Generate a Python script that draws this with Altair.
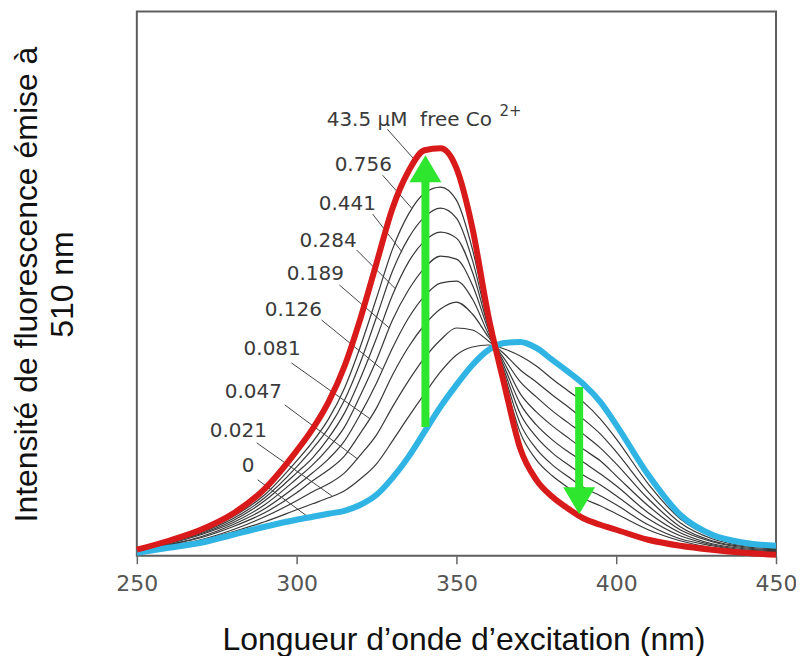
import altair as alt
import pandas as pd

# ---------------- data ----------------
wavelength = [250, 260, 270, 280, 290, 300, 305, 310, 315, 320, 325, 330, 335, 340,
              345, 350, 355, 360, 365, 370, 375, 380, 385, 390, 395, 400, 410, 420,
              430, 440, 450]

conc_0 = [3, 8, 13, 21, 29, 36, 39, 42, 45, 51, 61, 78, 99, 124, 149, 171, 191, 206,
          213, 214, 208, 196, 184, 171, 154, 131, 81, 41, 21, 13, 10]
conc_0021 = [3, 9, 15, 24, 34, 46, 52, 58, 65, 77, 92, 115, 139, 162, 184, 201, 209,
             211, 207, 200, 190, 177, 165, 153, 137, 117, 72, 37, 19, 12, 9]
conc_0047 = [4, 10, 16, 26, 39, 55, 64, 72, 83, 101, 121, 149, 175, 198, 216, 228, 226,
             215, 202, 186, 174, 161, 149, 136, 122, 104, 64, 33, 17, 10, 8]
conc_0081 = [4, 11, 18, 29, 43, 63, 75, 86, 100, 123, 148, 181, 209, 231, 247, 254, 242,
             219, 197, 174, 159, 145, 133, 121, 108, 92, 57, 29, 15, 9, 7]
conc_0126 = [4, 11, 19, 31, 47, 70, 83, 97, 115, 142, 173, 208, 238, 260, 273, 275, 257,
             222, 193, 162, 144, 130, 118, 106, 95, 80, 50, 26, 14, 8, 6]
conc_0189 = [5, 12, 21, 33, 51, 77, 91, 108, 129, 161, 196, 236, 266, 288, 300, 297, 271,
             226, 189, 152, 131, 116, 104, 93, 82, 70, 43, 23, 12, 7, 5]
conc_0284 = [5, 13, 22, 35, 55, 83, 98, 118, 143, 178, 218, 261, 294, 315, 324, 318, 284,
             229, 185, 142, 119, 103, 91, 80, 71, 60, 37, 20, 11, 6, 4]
conc_0441 = [5, 13, 23, 37, 58, 89, 107, 128, 156, 194, 239, 285, 318, 339, 348, 338, 296,
             232, 181, 132, 107, 91, 79, 68, 60, 51, 31, 17, 10, 5, 3]
conc_0756 = [6, 14, 24, 39, 61, 95, 114, 137, 168, 210, 258, 307, 342, 363, 369, 356, 307,
             235, 177, 123, 96, 80, 68, 57, 50, 42, 26, 15, 8, 5, 2]
conc_435 = [6, 15, 26, 42, 67, 105, 127, 154, 190, 238, 293, 348, 385, 406, 408, 388, 328,
            240, 171, 107, 76, 59, 47, 37, 31, 26, 16, 10, 6, 3, 1]

black_series = {
    "0.021": conc_0021, "0.047": conc_0047, "0.081": conc_0081, "0.126": conc_0126,
    "0.189": conc_0189, "0.284": conc_0284, "0.441": conc_0441, "0.756": conc_0756,
}

# curve labels (left edge / vertical centre) and leader lines
label_text = ["43.5 \u03bcM\u00a0\u00a0free Co", "0.756", "0.441", "0.284", "0.189",
              "0.126", "0.081", "0.047", "0.021", "0"]
label_x = [309.4, 311.9, 306.9, 300.9, 296.9, 290.0, 283.4, 277.5, 272.8, 282.8]
label_y = [436, 391, 352, 315, 282, 246, 207, 164, 125, 90]

sup_text = ["2+"]
sup_x = [363.5]
sup_y = [445]

lead_x1 = [328.4, 326.9, 323.8, 318.8, 313.4, 307.8, 298.4, 296.3, 287.5, 287.8]
lead_y1 = [427, 381, 342, 306, 271, 236, 193, 151, 113, 76]
lead_x2 = [337, 336, 333, 331, 329, 327, 323, 319, 311, 304]
lead_y2 = [396, 348, 304, 267, 228, 186, 137, 97, 60, 38]

# green arrows: shaft position, shaft ends, head centre
arrow_x = [340.3, 388.4]
arrow_y1 = [129, 169]
arrow_y2 = [376, 66]
head_y = [387.5, 55]

x_ticks = [250, 300, 350, 400, 450]

# ---------------- tables ----------------
black_rows = []
for name, vals in black_series.items():
    for w, v in zip(wavelength, vals):
        black_rows.append({"x": w, "y": v, "conc": name})
df_black = pd.DataFrame(black_rows)
df_blue = pd.DataFrame({"x": wavelength, "y": conc_0})
df_red = pd.DataFrame({"x": wavelength, "y": conc_435})
df_lab = pd.DataFrame({"x": label_x, "y": label_y, "t": label_text})
df_sup = pd.DataFrame({"x": sup_x, "y": sup_y, "t": sup_text})
df_lead = pd.DataFrame({"x": lead_x1, "y": lead_y1, "x2": lead_x2, "y2": lead_y2})
df_arrow = pd.DataFrame({"x": arrow_x, "y": arrow_y1, "y2": arrow_y2, "hy": head_y})

xs = alt.Scale(domain=[250, 450], nice=False, zero=False)
ys = alt.Scale(domain=[0, 545], nice=False, zero=False)

x_axis = alt.Axis(
    values=x_ticks, title="Longueur d\u2019onde d\u2019excitation (nm)", grid=False,
    domain=False, tickColor="#666666", tickSize=8, tickWidth=1.5,
    labelFont="DejaVu Sans", labelFontSize=22, labelColor="#555555", labelPadding=10,
    labelFlush=False, titleFont="Liberation Sans", titleFontSize=32,
    titleFontWeight="normal", titleColor="#111111", titleX=327, titleY=94,
    titleBaseline="alphabetic",
)
y_axis = alt.Axis(
    title=["Intensit\u00e9 de fluorescence \u00e9mise \u00e0", "510 nm"], grid=False,
    labels=False, ticks=False, domain=False, titleFont="Liberation Sans",
    titleFontSize=32, titleFontWeight="normal", titleColor="#111111",
    titleAngle=270, titleX=-100, titleY=273, titleBaseline="alphabetic",
    titleAlign="center", titleLineHeight=36,
)


def X(field="x"):
    return alt.X(f"{field}:Q", scale=xs, axis=x_axis)


def Y(field="y"):
    return alt.Y(f"{field}:Q", scale=ys, axis=y_axis)


black = alt.Chart(df_black).mark_line(
    color="#383838", strokeWidth=1.2, interpolate="monotone"
).encode(x=X(), y=Y(), detail="conc:N")

blue = alt.Chart(df_blue).mark_line(
    color="#2fb4e4", strokeWidth=6, interpolate="monotone"
).encode(x=X(), y=Y())

red = alt.Chart(df_red).mark_line(
    color="#d81a1a", strokeWidth=6, interpolate="monotone"
).encode(x=X(), y=Y())

leaders = alt.Chart(df_lead).mark_rule(color="#444444", strokeWidth=1).encode(
    x=X(), y=Y(), x2="x2:Q", y2="y2:Q",
)

labels = alt.Chart(df_lab).mark_text(
    align="left", baseline="middle", font="DejaVu Sans", fontSize=20, color="#3a3a3a"
).encode(x=X(), y=Y(), text="t:N")

sup = alt.Chart(df_sup).mark_text(
    align="left", baseline="middle", font="DejaVu Sans", fontSize=15, color="#3a3a3a"
).encode(x=X(), y=Y(), text="t:N")

green = "#2ee62e"
shafts = alt.Chart(df_arrow).mark_rule(color=green, strokeWidth=8).encode(
    x=X(), y=Y(), y2="y2:Q",
)
head_up = alt.Chart(df_arrow.iloc[[0]]).mark_point(
    shape="M-1,0.84L1,0.84L0,-0.84Z", size=1024, filled=True, color=green,
    opacity=1, strokeWidth=0,
).encode(x=X(), y=Y("hy"))
head_down = alt.Chart(df_arrow.iloc[[1]]).mark_point(
    shape="M-1,-0.84L1,-0.84L0,0.84Z", size=1024, filled=True, color=green,
    opacity=1, strokeWidth=0,
).encode(x=X(), y=Y("hy"))

chart = alt.layer(
    black, leaders, blue, red, shafts, head_up, head_down, labels, sup
).properties(
    width=640, height=545,
    padding={"left": 129, "top": 3, "right": 20, "bottom": 100},
    autosize=alt.AutoSizeParams(type="none"),
    background="white",
).configure_view(stroke="#5e5e5e", strokeWidth=2)

chart.save("out.html", embed_options={"renderer": "svg", "actions": False})
